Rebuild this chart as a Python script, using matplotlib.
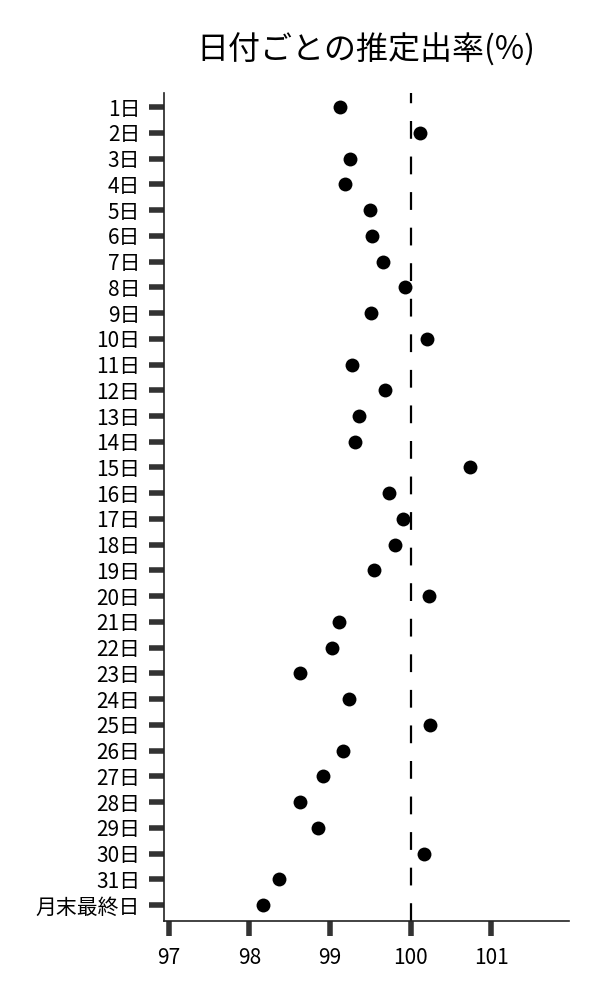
import matplotlib.pyplot as plt

plt.rcParams['font.family'] = ['Noto Sans CJK JP', 'DejaVu Sans']

# day labels and estimated rate (%) per day
days = [f"{i}日" for i in range(1, 32)] + ["月末最終日"]
rates = [
    99.13, 100.11, 99.25, 99.18, 99.50, 99.52, 99.66, 99.93,
    99.51, 100.20, 99.27, 99.68, 99.36, 99.31, 100.74, 99.73,
    99.91, 99.80, 99.54, 100.23, 99.11, 99.02, 98.63, 99.23,
    100.24, 99.16, 98.91, 98.63, 98.85, 100.16, 98.37, 98.17,
]
x_ticks = [97, 98, 99, 100, 101]
ref_value = 100

fig = plt.figure(figsize=(6, 10), dpi=100)
ax = fig.add_axes([0.273, 0.079, 0.675, 0.828])

y = list(range(len(days)))
ax.scatter(rates, y, s=100, color='black', zorder=3, linewidths=0)
ax.axvline(ref_value, color='black', linewidth=1.6, dashes=(8, 8), zorder=2)

ax.set_yticks(y)
ax.set_yticklabels(days)
ax.set_xticks(x_ticks)
ax.set_xlim(96.94, 101.96)
ax.set_ylim(len(days) - 1 + 0.62, -0.55)

for side in ['top', 'right']:
    ax.spines[side].set_visible(False)
for side in ['left', 'bottom']:
    ax.spines[side].set_color('#222222')
    ax.spines[side].set_linewidth(1.2)

ax.tick_params(axis='both', length=11, width=4, color='#333333',
               labelsize=15)
ax.tick_params(axis='y', pad=6)
ax.tick_params(axis='x', pad=8)

ax.set_title("日付ごとの推定出率(%)", fontsize=23, pad=24)

fig.savefig("out.png", dpi=100)
